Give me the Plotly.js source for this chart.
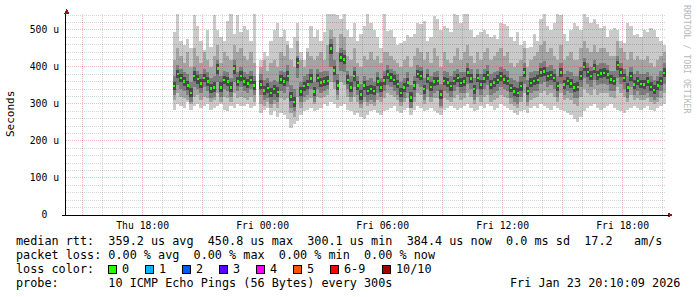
<!DOCTYPE html>
<html><head><meta charset="utf-8">
<script src="https://cdn.plot.ly/plotly-3.0.1.min.js"></script>
<style>
html,body{margin:0;padding:0;background:#fff}
#c{width:697px;height:297px}
.shapelayer path,.bars path{shape-rendering:crispEdges}
</style>
</head><body><div id="c"></div>
<script>
// ---- data (values in microseconds), one entry per 10-minute step starting Thu 19:30 ----
const stepStart = '2026-01-22 19:30:00';
const stepMinutes = 10;
const median = [348,381,370,360,350,330,375,367,355,370,360,342,345,395,345,365,360,345,395,360,375,
360,355,365,350,null,353,336,343,330,340,332,366,361,375,320,305,411,334,348,352,368,334,
370,358,361,362,450,390,350,425,420,365,345,375,350,325,350,335,340,335,360,345,363,
380,372,365,354,330,344,358,318,350,381,376,340,368,346,360,362,325,362,358,348,362,370,
357,360,385,368,340,370,352,368,378,352,358,365,375,366,362,343,334,330,348,385,335,357,
362,365,385,388,375,378,370,348,385,353,362,356,345,346,376,400,386,376,395,378,383,
384,380,366,362,405,385,370,345,375,352,362,354,352,360,346,338,350,362,384];
const smokeMax = [495,543,470,460,475,450,540,510,470,445,500,455,540,500,480,470,525,543,490,540,495,
510,500,470,543,null,420,440,430,470,500,520,480,500,470,450,480,520,440,420,450,510,480,
500,470,495,543,543,543,540,530,543,500,480,520,470,490,510,543,520,500,480,450,543,
497,500,480,460,465,470,485,480,490,520,515,525,470,480,538,530,500,510,505,495,543,540,
520,543,543,500,480,485,495,500,490,480,485,475,520,515,510,480,470,495,460,470,450,455,
490,470,530,543,510,500,520,543,540,490,470,500,520,510,500,543,535,520,530,515,505,
510,480,500,505,500,470,465,520,510,485,490,480,500,495,505,500,480,470,460];
const smokeHi2 = [420,450,430,410,440,400,450,430,410,440,420,400,430,460,410,440,430,420,460,440,450,
430,420,440,410,null,400,420,390,410,420,400,440,430,460,420,400,470,420,400,440,430,420,
430,440,420,460,500,480,440,490,480,430,420,450,410,400,430,420,440,420,430,410,440,
440,430,420,410,400,420,430,400,430,450,440,420,440,410,450,430,400,440,420,410,430,450,
420,440,460,430,410,440,420,440,450,420,430,440,450,430,440,410,400,410,420,450,400,420,
430,440,460,470,440,450,430,420,460,420,430,440,420,420,450,470,450,440,460,440,450,
450,440,430,430,470,450,440,420,440,420,430,420,420,430,410,400,420,430,440];
const smokeHi3 = [375,405,395,385,380,360,400,390,380,395,385,370,375,420,375,390,385,370,420,385,400,
385,380,390,375,null,380,365,370,360,365,360,390,385,405,350,340,430,360,375,380,395,360,
395,385,390,390,475,420,380,450,445,390,375,400,375,355,375,365,370,360,385,370,390,
405,395,390,380,360,370,385,350,375,405,400,370,395,375,385,390,355,390,385,375,390,395,
385,385,410,395,370,395,380,395,405,380,385,390,400,395,390,370,365,360,375,410,365,385,
390,390,410,415,400,405,395,375,410,380,390,385,375,375,400,425,410,400,420,405,410,
410,405,390,390,430,410,395,375,400,380,390,380,380,385,375,365,375,390,410];
const smokeHi4 = [360,392,382,372,362,342,388,378,368,382,372,354,358,408,358,376,372,358,406,372,388,
372,368,376,362,null,366,348,356,342,352,345,378,372,388,333,318,424,346,360,365,380,346,
382,370,374,376,462,402,364,438,432,378,358,388,362,338,362,348,352,348,372,358,376,
392,384,378,366,342,356,370,332,362,393,388,352,380,358,372,374,338,374,370,360,374,382,
370,372,397,380,352,382,364,380,390,364,370,377,387,378,374,355,346,342,360,397,347,369,
374,377,397,400,387,390,382,360,397,365,374,368,357,358,388,412,398,388,407,390,395,
396,392,378,374,417,397,382,357,387,364,374,366,364,372,358,350,362,374,396];
const smokeLo4 = [337,369,358,348,338,318,362,355,343,358,348,330,333,382,333,353,348,333,382,348,362,
348,343,353,338,null,341,324,330,318,328,320,354,349,362,308,292,398,322,336,340,356,322,
358,346,349,350,436,378,338,412,408,353,333,362,338,312,338,323,328,323,348,333,351,
368,360,352,342,318,332,346,306,338,369,364,328,356,334,348,350,313,350,346,336,350,358,
345,348,373,356,328,358,340,356,366,340,346,353,363,354,350,331,322,318,336,373,323,345,
350,353,373,376,363,366,358,336,373,341,350,344,333,334,364,388,374,364,383,366,371,
372,368,354,350,393,373,358,333,363,340,350,342,340,348,334,326,338,350,372];
const smokeLo3 = [325,350,340,335,325,305,345,340,330,345,335,315,320,360,320,340,335,320,360,335,345,
335,330,340,325,null,325,310,315,300,310,305,335,330,345,290,280,370,305,320,325,340,305,
340,330,335,340,400,360,325,390,385,340,320,345,325,300,320,305,310,305,330,320,335,
350,345,335,325,305,315,330,290,320,355,345,310,340,320,330,335,295,335,330,320,335,345,
330,330,355,340,310,340,325,340,350,325,330,335,345,340,335,315,305,300,320,355,305,330,
335,335,355,360,345,350,340,320,355,325,335,330,315,315,345,370,355,345,365,350,355,
355,350,335,335,370,355,340,315,345,325,335,325,325,330,320,310,320,335,355];
const smokeLo2 = [310,330,320,315,310,300,320,325,310,320,315,305,310,330,305,320,315,305,330,315,320,
315,310,320,305,null,300,295,305,290,300,290,315,310,315,275,265,320,290,305,310,315,300,
320,315,320,325,360,340,310,360,350,320,305,320,305,290,305,295,300,295,310,305,315,
330,325,320,310,295,305,315,290,305,330,325,300,320,305,315,315,290,315,310,305,315,325,
310,315,330,320,300,320,305,320,325,305,310,315,325,320,315,300,295,290,305,330,295,310,
315,320,330,335,325,330,320,305,330,310,315,310,300,295,320,340,330,325,340,325,330,
330,330,320,315,345,330,320,305,325,310,315,310,310,315,305,300,305,315,330];
const smokeMin = [285,300,295,290,305,285,295,300,290,295,300,285,290,295,300,285,280,295,290,300,295,
295,300,290,295,null,275,285,290,270,280,265,275,270,260,236,245,255,270,280,285,290,280,
285,290,300,295,305,300,290,295,300,285,280,270,275,265,260,270,280,285,275,270,280,
285,290,295,280,275,285,290,270,285,295,290,280,285,290,280,275,270,285,290,295,290,285,
290,295,300,290,280,285,295,290,300,295,285,290,300,295,290,285,275,270,280,285,275,290,
295,290,300,295,290,285,295,290,285,280,275,270,260,250,265,280,290,295,300,290,285,
290,295,300,290,285,280,275,285,290,295,290,285,290,295,285,280,290,295,300];

const timeRange = ['2026-01-22 14:10:09', '2026-01-23 20:10:09'];
const xTickTimes = ['2026-01-22 18:00','2026-01-23 00:00','2026-01-23 06:00','2026-01-23 12:00','2026-01-23 18:00'];
const xTickLabels = ['Thu 18:00','Fri 00:00','Fri 06:00','Fri 12:00','Fri 18:00'];
const yTickVals = [0,100,200,300,400,500];
const yTickLabels = ['0\u00a0\u00a0','100 u','200 u','300 u','400 u','500 u'];
const yMax = 543;
const statLines = [
  'median rtt:  359.2 us avg  450.8 us max  300.1 us min  384.4 us now  0.0 ms sd  17.2   am/s',
  'packet loss: 0.00 % avg  0.00 % max  0.00 % min  0.00 % now'
];
const lossLabels = ['0','1','2','3','4','5','6-9','10/10'];
const lossColors = ['#26ff00','#00b8ff','#0059ff','#5e00ff','#ff00f4','#ff5500','#ff0000','#a10000'];
const probeLine = 'probe:       10 ICMP Echo Pings (56 Bytes) every 300s';
const dateLine = 'Fri Jan 23 20:10:09 2026';

// ---- build ----
function toMs(s){const p=s.split(/[- :]/).map(Number);return Date.UTC(p[0],p[1]-1,p[2],p[3]||0,p[4]||0,p[5]||0);}
const stepMs = stepMinutes*60000;
const t0 = toMs(stepStart);
const xs = median.map((_,i)=>t0+stepMs*(i+0.5));
function band(lo,hi,color,w){
  return {type:'bar',x:xs,base:lo,y:hi.map((h,i)=>(h==null||lo[i]==null)?null:h-lo[i]),
    width:w,marker:{color:color,line:{width:0}},hoverinfo:'skip',showlegend:false};
}
const medHalf = 3.5;
const traces = [
  band(smokeMin,smokeMax,'#cacaca',stepMs),
  band(smokeLo2,smokeHi2,'#a4a4a4',stepMs),
  band(smokeLo3,smokeHi3,'#7e7e7e',stepMs),
  band(smokeLo4,smokeHi4,'#4a4a4a',stepMs),
  band(median.map(v=>v==null?null:v-medHalf),median.map(v=>v==null?null:v+medHalf),lossColors[0],stepMs*0.6)
];

const shapes = [];
const majorCol = 'rgba(225,40,40,0.32)', minorCol = 'rgba(0,0,0,0.16)';
// grid (above smoke like rrdtool)
const gStart = toMs('2026-01-22 15:00'), gEnd = toMs('2026-01-23 20:00');
for(let t=gStart;t<=gEnd;t+=3600000){
  const major = (Math.round((t-gStart)/3600000)%3)===0;
  shapes.push({type:'line',xref:'x',yref:'paper',x0:t,x1:t,y0:0,y1:1,layer:'above',
    line:{color:major?majorCol:minorCol,width:1,dash:'1px,1px'}});
}
for(let v=20;v<=yMax;v+=20){
  const major = v%100===0;
  shapes.push({type:'line',xref:'paper',yref:'y',x0:0,x1:1,y0:v,y1:v,layer:'above',
    line:{color:major?majorCol:minorCol,width:1,dash:'1px,1px'}});
}
// arrows and axis extensions
const arrowCol = '#8b1a1a';
shapes.push({type:'path',xref:'paper',yref:'paper',xsizemode:'pixel',ysizemode:'pixel',xanchor:0,yanchor:1,
  path:'M-2,0.5 L3,0.5 L0.5,5.5 Z',fillcolor:arrowCol,line:{width:0},layer:'above'});
shapes.push({type:'path',xref:'paper',yref:'paper',xsizemode:'pixel',ysizemode:'pixel',xanchor:1,yanchor:0,
  path:'M2,2.5 L2,-2.5 L7.5,0 Z',fillcolor:arrowCol,line:{width:0},layer:'above'});
shapes.push({type:'path',xref:'paper',yref:'paper',xsizemode:'pixel',ysizemode:'pixel',xanchor:0,yanchor:0,
  path:'M-4,0 L0,0',line:{color:'#000',width:1},layer:'above'});
shapes.push({type:'path',xref:'paper',yref:'paper',xsizemode:'pixel',ysizemode:'pixel',xanchor:1,yanchor:0,
  path:'M0,0 L3,0',line:{color:'#000',width:1},layer:'above'});

// layout helpers (pixel -> paper)
const L=66, T=14, PW=600, PH=201;
const px = x=>(x-L)/PW, py = y=>(T+PH-y)/PH;
const mono = 'DejaVu Sans Mono, monospace';
const legendFont = {family:mono,size:11.8,color:'#000'};
const nb = s=>s.replace(/ /g,'\u00a0');
const annotations = [];
function txt(x,y,s,anchor,font,extra){
  annotations.push(Object.assign({xref:'paper',yref:'paper',x:px(x),y:py(y),text:nb(s),showarrow:false,
    xanchor:anchor,yanchor:'middle',font:font,borderpad:0,borderwidth:0},extra||{}));
}
txt(16,241,statLines[0],'left',legendFont);
txt(16,255,statLines[1],'left',legendFont);
txt(16,269,'loss color:','left',legendFont);
let bx = 108.3;
lossLabels.forEach((lab,k)=>{
  shapes.push({type:'rect',xref:'paper',yref:'paper',x0:px(bx),x1:px(bx+8),y0:py(273),y1:py(265),
    fillcolor:lossColors[k],line:{color:'#000',width:1},layer:'above'});
  txt(bx+13.4,269,lab,'left',legendFont);
  bx += 13.4 + lab.length*7.1 + 16.6;
});
txt(16,283,probeLine,'left',legendFont);
txt(680,283,dateLine,'right',legendFont);
txt(11,114,'Seconds','center',{family:mono,size:11,color:'#000'},{textangle:-90,xanchor:'center'});
txt(687,59,'RRDTOOL / TOBI OETIKER','center',{family:mono,size:8.2,color:'#b8b8b8'},{textangle:90,xanchor:'center'});

const tickFont = {family:mono,size:9.75,color:'#000'};
const layout = {
  width:697,height:297,margin:{l:L,r:697-L-PW,t:T,b:297-T-PH,pad:0},
  paper_bgcolor:'#fff',plot_bgcolor:'#fff',
  barmode:'overlay',bargap:0,showlegend:false,
  xaxis:{type:'date',range:timeRange,tickvals:xTickTimes,ticktext:xTickLabels,showgrid:false,zeroline:false,
    showline:true,linecolor:'#000',linewidth:1,ticks:'outside',ticklen:1,tickcolor:'rgba(0,0,0,0)',
    tickfont:tickFont,fixedrange:true,layer:'above traces'},
  yaxis:{range:[0,yMax],tickvals:yTickVals,ticktext:yTickLabels,showgrid:false,zeroline:false,
    showline:true,linecolor:'#000',linewidth:1,ticks:'outside',ticklen:4,tickcolor:'rgba(0,0,0,0)',
    tickfont:tickFont,fixedrange:true,layer:'above traces'},
  shapes:shapes,annotations:annotations
};
Plotly.newPlot('c',traces,layout,{staticPlot:true,displayModeBar:false});
</script></body></html>
